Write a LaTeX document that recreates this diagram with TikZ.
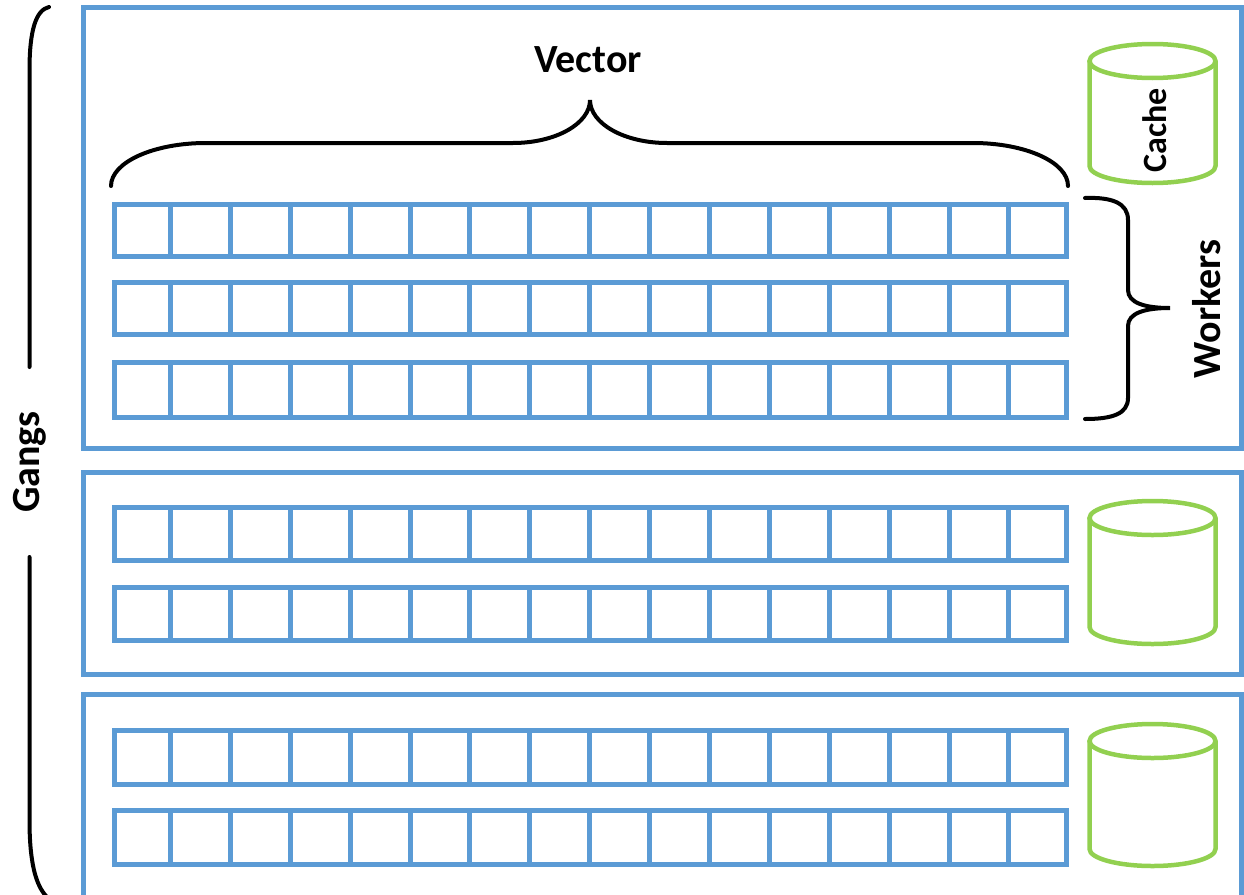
\documentclass[tikz,border=0pt]{standalone}
\usepackage{fontspec}
\setmainfont{Carlito}
\definecolor{cellblue}{HTML}{5B9BD5}
\definecolor{cachegreen}{HTML}{92D050}
\newcommand\cellrow[2]{%
  \draw[box] (114.5,#1) rectangle (1066.5,#2);
  \foreach \k in {0,...,14}{\draw[box] ({170.5+59.89*\k},#1) -- ({170.5+59.89*\k},#2);}%
}
\newcommand\cachecyl[3]{%
  \draw[cyl] (#1,#2) ellipse [x radius=63, y radius=17];
  \draw[cyl] ({#1-63},#2) -- ({#1-63},#3) arc[start angle=180, end angle=0, x radius=63, y radius=17] -- ({#1+63},#2);%
}
\begin{document}
\begin{tikzpicture}[x=1pt,y=-1pt,
  box/.style={draw=cellblue, line width=5pt},
  cyl/.style={draw=cachegreen, line width=4.5pt},
  brace/.style={draw=black, line width=4pt, line cap=round},
  lbl/.style={font=\bfseries\fontsize{40}{48}\selectfont, inner sep=0pt},
  smalllbl/.style={font=\bfseries\fontsize{34}{40}\selectfont, inner sep=0pt}]
\useasboundingbox (0,0) rectangle (1244,894);
\clip (0,0) rectangle (1244,894);
% gang boxes
\draw[box] (83.5,7.5) rectangle (1241,448.5);
\draw[box] (83.5,472.5) rectangle (1241,674.5);
\draw[box] (83.5,694.5) rectangle (1241,920);
% worker rows
\cellrow{204}{256}
\cellrow{282.5}{334.5}
\cellrow{362.5}{417.5}
\cellrow{507.5}{560.5}
\cellrow{587.5}{640.5}
\cellrow{730.5}{784}
\cellrow{810.5}{864}
% caches
\cachecyl{1152.5}{61}{166}
\cachecyl{1152.5}{518}{627}
\cachecyl{1152.5}{741}{849}
% labels
\node[lbl, anchor=base] (vector) at (588,72) {Vector};
\node[lbl, anchor=base, rotate=90] (workers) at (1220,309) {Workers};
\node[lbl, anchor=base, rotate=90] (gangs) at (39,462) {Gangs};
\node[smalllbl, anchor=base, rotate=90] (cache) at (1166.5,130.5) {Cache};
% vector brace
\draw[brace] (111,186) .. controls (111,162) and (154,143) .. (206,143)
  -- (513,143) .. controls (555.5,143) and (590,123.7) .. (590,100)
  .. controls (590,123.7) and (624.5,143) .. (667,143)
  -- (973,143) .. controls (1025,143) and (1068,162) .. (1068,186);
% workers brace
\draw[brace] (1085,198) .. controls (1112,197) and (1128,203) .. (1128,220)
  -- (1128,290) .. controls (1128,303) and (1145,308) .. (1170,308)
  .. controls (1145,308) and (1128,313) .. (1128,326)
  -- (1128,398) .. controls (1128,414) and (1112,419) .. (1085,419);
% gangs bracket
\draw[brace] (49,7) .. controls (36,10) and (29.5,30) .. (29.5,70) -- (29.5,367);
\draw[brace] (29.5,557) -- (29.5,820) .. controls (29.5,860) and (35,885) .. (47,897);
\end{tikzpicture}
\end{document}
